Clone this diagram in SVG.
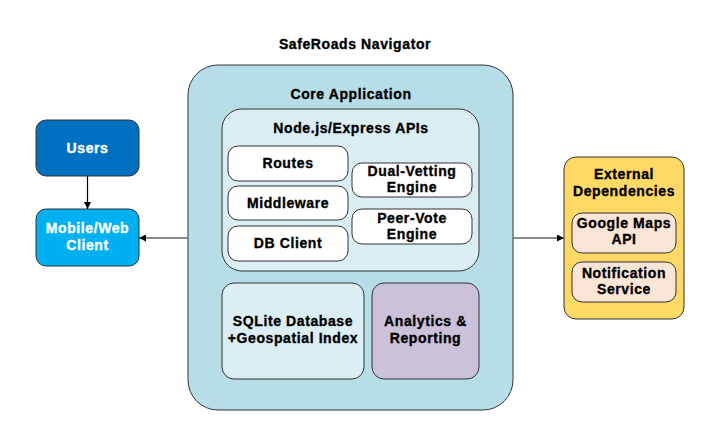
<svg xmlns="http://www.w3.org/2000/svg" width="722" height="442" viewBox="0 0 722 442">
<defs>
<style>
text{font-family:"Liberation Sans",Arial,sans-serif;font-weight:bold;font-size:14px;letter-spacing:0.6px;text-anchor:middle;fill:#000;stroke:#000;stroke-width:0.35px}
text.w{fill:#fff;stroke:#fff}
.box{stroke:#333;stroke-width:1}
.conn{stroke:#666;stroke-width:1.5;fill:none}
</style>
<marker id="ah" viewBox="0 0 10 10" refX="10" refY="5" markerWidth="7" markerHeight="7" orient="auto" markerUnits="userSpaceOnUse">
<path d="M0,0 L10,5 L0,10 z" fill="#000"/>
</marker>
</defs>
<rect width="722" height="442" fill="#fff"/>
<text x="355" y="49">SafeRoads Navigator</text>

<g id="core">
<rect class="box" x="188" y="65" width="325" height="345" rx="30" fill="#b7dde8" stroke="#555"/>
<text x="351" y="99">Core Application</text>
</g>
<g id="nodejs">
<rect class="box" x="222" y="109" width="257" height="162" rx="20" fill="#daeef3"/>
<text x="351" y="133">Node.js/Express APIs</text>
</g>
<g id="routes">
<rect class="box" x="228" y="146" width="120" height="35" rx="10" fill="#fff"/>
<text x="288" y="168">Routes</text>
</g>
<g id="middleware">
<rect class="box" x="228" y="186" width="120" height="34" rx="10" fill="#fff"/>
<text x="288" y="208">Middleware</text>
</g>
<g id="dbclient">
<rect class="box" x="228" y="226" width="120" height="35" rx="10" fill="#fff"/>
<text x="288" y="248">DB Client</text>
</g>
<g id="dualvetting">
<rect class="box" x="352" y="163" width="120" height="34" rx="10" fill="#fff"/>
<text x="412" y="176">Dual-Vetting</text>
<text x="412" y="192">Engine</text>
</g>
<g id="peervote">
<rect class="box" x="352" y="209" width="120" height="35" rx="10" fill="#fff"/>
<text x="412" y="223">Peer-Vote</text>
<text x="412" y="239">Engine</text>
</g>
<g id="sqlite">
<rect class="box" x="222" y="283" width="142" height="96" rx="12" fill="#daeef3"/>
<text x="293" y="326">SQLite Database</text>
<text x="293" y="343">+Geospatial Index</text>
</g>
<g id="analytics">
<rect class="box" x="372" y="283" width="107" height="96" rx="12" fill="#ccc1da"/>
<text x="425.5" y="326">Analytics &amp;</text>
<text x="425.5" y="343">Reporting</text>
</g>

<g id="users">
<rect class="box" x="36" y="120" width="103" height="56" rx="10" fill="#0070c0"/>
<text class="w" x="87.5" y="153">Users</text>
</g>
<g id="client">
<rect class="box" x="36" y="209" width="103" height="57" rx="10" fill="#00b0f0"/>
<text class="w" x="87.5" y="233">Mobile/Web</text>
<text class="w" x="87.5" y="250">Client</text>
</g>

<g id="external">
<rect class="box" x="564" y="157" width="120" height="162" rx="12" fill="#ffd966"/>
<text x="624" y="179">External</text>
<text x="624" y="196">Dependencies</text>
</g>
<g id="googlemaps">
<rect class="box" x="572" y="213" width="104" height="40" rx="10" fill="#fbe5d6"/>
<text x="624" y="228">Google Maps</text>
<text x="624" y="244">API</text>
</g>
<g id="notification">
<rect class="box" x="572" y="262" width="104" height="40" rx="10" fill="#fbe5d6"/>
<text x="624" y="278">Notification</text>
<text x="624" y="294">Service</text>
</g>

<g id="connectors">
<line x1="87.5" y1="176" x2="87.5" y2="209" stroke="#000" stroke-width="1.2" marker-end="url(#ah)"/>
<line class="conn" x1="188" y1="238" x2="139" y2="238" marker-end="url(#ah)"/>
<line class="conn" x1="513" y1="238" x2="564" y2="238" marker-end="url(#ah)"/>
</g>
</svg>
